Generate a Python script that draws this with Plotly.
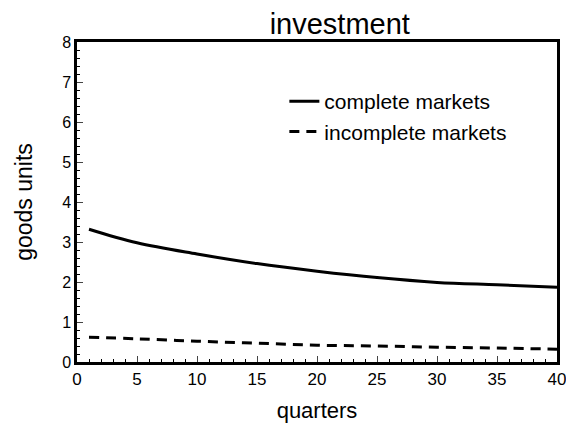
import plotly.graph_objects as go

quarters = [1, 5, 10, 15, 20, 25, 30, 35, 40]
complete_markets = [3.32, 2.98, 2.70, 2.46, 2.27, 2.11, 1.99, 1.93, 1.87]
incomplete_markets = [0.62, 0.58, 0.52, 0.47, 0.42, 0.40, 0.37, 0.35, 0.32]

x_ticks = [0, 5, 10, 15, 20, 25, 30, 35, 40]
y_ticks = [0, 1, 2, 3, 4, 5, 6, 7, 8]

font = "Liberation Sans, Arial, sans-serif"

fig = go.Figure()
fig.add_trace(go.Scatter(x=quarters, y=complete_markets, mode="lines",
                         name="complete markets", line=dict(color="black", width=3, shape="spline")))
fig.add_trace(go.Scatter(x=quarters, y=incomplete_markets, mode="lines",
                         name="incomplete markets",
                         line=dict(color="black", width=3, dash="10px,7px", shape="spline")))

fig.update_layout(
    width=574, height=427,
    margin=dict(l=69, r=25, t=34, b=73),
    paper_bgcolor="white", plot_bgcolor="white",
    font=dict(family=font, color="black"),
    title=dict(text="investment", x=0.578, xanchor="center", y=0.9625, yanchor="middle",
               font=dict(size=29, family=font, color="black")),
    showlegend=True,
    legend=dict(x=0.432, y=0.878, xanchor="left", yanchor="top", bgcolor="rgba(0,0,0,0)",
                font=dict(size=21, family=font), itemwidth=30, tracegroupgap=0),
    xaxis=dict(range=[0, 40], tickvals=x_ticks, ticks="inside", ticklen=6, tickwidth=1,
               showline=True, linecolor="black", linewidth=2.5, mirror=True, showgrid=False,
               zeroline=False, tickfont=dict(size=17, family=font), automargin=False,
               minor=dict(dtick=1, ticks="inside", ticklen=3, tickcolor="black"),
               title=dict(text="quarters", font=dict(size=22, family=font), standoff=15)),
    yaxis=dict(range=[0, 8], tickvals=y_ticks, ticks="inside", ticklen=6, tickwidth=1,
               showline=True, linecolor="black", linewidth=2.5, mirror=True, showgrid=False,
               zeroline=False, tickfont=dict(size=16, family=font), automargin=False,
               minor=dict(dtick=0.2, ticks="inside", ticklen=3, tickcolor="black"),
               title=dict(text="goods units", font=dict(size=23, family=font), standoff=24)),
)

fig.write_html("out.html")
